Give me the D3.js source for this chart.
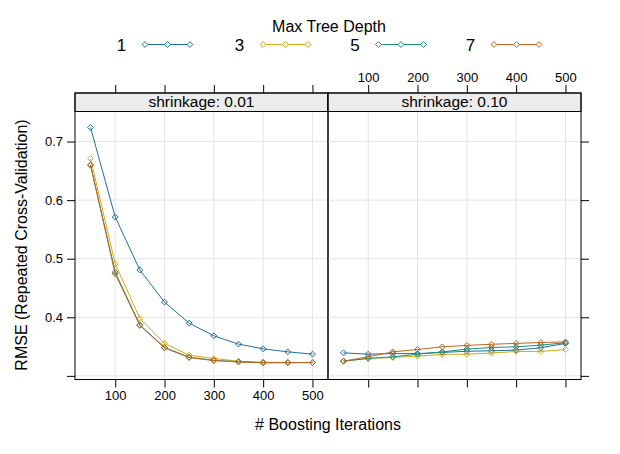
<!DOCTYPE html>
<html><head><meta charset="utf-8">
<script src="https://cdn.jsdelivr.net/npm/d3@7"></script>
<style>body{margin:0;background:#fff}svg{display:block;font-family:"Liberation Sans",Arial,sans-serif}</style>
</head><body><svg id="c" width="620" height="454"></svg>
<script>
const iterations = [50,100,150,200,250,300,350,400,450,500];
const depths = ["1","3","5","7"];
const colors = ["#1f6f9e","#d8a812","#1a8f7c","#c0661c"];
const panels = ["shrinkage: 0.01","shrinkage: 0.10"];
// shrinkage 0.01
const s001_d1 = [0.7239,0.5713,0.4807,0.4260,0.3900,0.3684,0.3542,0.3462,0.3410,0.3371];
const s001_d3 = [0.6710,0.4915,0.3980,0.3554,0.3354,0.3297,0.3250,0.3232,0.3228,0.3227];
const s001_d5 = [0.6600,0.4770,0.3870,0.3485,0.3318,0.3265,0.3240,0.3224,0.3226,0.3227];
const s001_d7 = [0.6595,0.4740,0.3860,0.3478,0.3312,0.3262,0.3238,0.3226,0.3227,0.3227];
// shrinkage 0.10
const s010_d1 = [0.3393,0.3370,0.3380,0.3380,0.3400,0.3420,0.3428,0.3440,0.3480,0.3554];
const s010_d3 = [0.3251,0.3300,0.3314,0.3337,0.3366,0.3370,0.3390,0.3417,0.3417,0.3450];
const s010_d5 = [0.3251,0.3297,0.3325,0.3370,0.3410,0.3457,0.3485,0.3496,0.3525,0.3565];
const s010_d7 = [0.3251,0.3325,0.3410,0.3450,0.3496,0.3520,0.3540,0.3554,0.3570,0.3580];
const xTicks = [100,200,300,400,500];
const yTicks = [0.3,0.4,0.5,0.6,0.7];
const yTickLabels = ["","0.4","0.5","0.6","0.7"];

const panelData = [[s001_d1,s001_d3,s001_d5,s001_d7],[s010_d1,s010_d3,s010_d5,s010_d7]];

(function(){
const svg = d3.select("#c");
const pw = 253, pTop = 111.5, pBottom = 379.5, stripTop = 93;
const panelX = [75, 328];
const x = d3.scaleLinear().domain([18.5,531.5]).range([0,pw]);
const y = d3.scaleLinear().domain([0.2938,0.7513]).range([pBottom,pTop]);
const font = "Liberation Sans, Arial, sans-serif";

// legend
svg.append("text").attr("x",329).attr("y",32).attr("text-anchor","middle")
  .attr("font-size",16).attr("fill","#000").text("Max Tree Depth");
const legX = [121.5,239.5,355,470.5];
const lx = d3.scaleLinear().domain([0,2]).range([0,45]);
depths.forEach((d,i)=>{
  svg.append("text").attr("x",legX[i]).attr("y",50.5).attr("text-anchor","middle").attr("font-size",17).text(d);
  const x0 = legX[i]+23.5;
  const lg = svg.append("g").attr("transform",`translate(${x0},44.5)`);
  lg.append("line").attr("x1",lx(0)).attr("x2",lx(2)).attr("stroke",colors[i]).attr("stroke-width",1.2);
  [0,1,2].forEach(k=>lg.append("path").attr("d",d3.symbol(d3.symbolDiamond2,22)()).attr("transform",`translate(${lx(k)},0)`)
     .attr("fill","#fff").attr("stroke",colors[i]).attr("stroke-width",1));
});

panels.forEach((p,pi)=>{
  const g = svg.append("g").attr("transform",`translate(${panelX[pi]},0)`);
  // grid
  g.selectAll(".gx").data(xTicks).join("line").attr("x1",d=>x(d)).attr("x2",d=>x(d))
    .attr("y1",pTop).attr("y2",pBottom).attr("stroke","#e4e4e4").attr("stroke-width",1);
  g.selectAll(".gy").data(yTicks).join("line").attr("y1",d=>y(d)).attr("y2",d=>y(d))
    .attr("x1",0).attr("x2",pw).attr("stroke","#e4e4e4").attr("stroke-width",1);
  // series
  const line = d3.line().x((d,i)=>x(iterations[i])).y(d=>y(d));
  panelData[pi].forEach((vals,si)=>{
    g.append("path").attr("d",line(vals)).attr("fill","none").attr("stroke",colors[si]).attr("stroke-width",1);
    g.selectAll(null).data(vals).join("path").attr("d",d3.symbol(d3.symbolDiamond2,22)())
      .attr("transform",(d,i)=>`translate(${x(iterations[i])},${y(d)})`)
      .attr("fill","none").attr("stroke",colors[si]).attr("stroke-width",1);
  });
  // strip
  g.append("rect").attr("x",0).attr("y",stripTop).attr("width",pw).attr("height",pTop-stripTop)
    .attr("fill","#ececec").attr("stroke","#000").attr("stroke-width",1);
  g.append("text").attr("x",pw/2).attr("y",pTop-4.5).attr("text-anchor","middle").attr("font-size",15.5).text(p);
  // border
  g.append("rect").attr("x",0).attr("y",stripTop).attr("width",pw).attr("height",pBottom-stripTop)
    .attr("fill","none").attr("stroke","#000").attr("stroke-width",1);
  // x axes
  const bAx = d3.axisBottom(x).tickValues(xTicks).tickSize(8).tickPadding(3);
  const tAx = d3.axisTop(x).tickValues(xTicks).tickSize(8).tickPadding(3);
  if (pi===1) bAx.tickFormat(""); else tAx.tickFormat("");
  const ba = g.append("g").attr("transform",`translate(0,${pBottom})`).call(bAx);
  const ta = g.append("g").attr("transform",`translate(0,${stripTop})`).call(tAx);
  [ba,ta].forEach(a=>{a.select(".domain").remove();
    a.selectAll("text").attr("font-size",13).attr("fill","#000").attr("font-family",font);
    a.selectAll("line").attr("stroke","#000");});
  // y axes
  if (pi===0){
    const la = g.append("g").call(d3.axisLeft(y).tickValues(yTicks).tickSize(8).tickPadding(4)
       .tickFormat((d,i)=>yTickLabels[i]));
    la.select(".domain").remove();
    la.selectAll("text").attr("font-size",13).attr("fill","#000").attr("font-family",font);
    la.selectAll("line").attr("stroke","#000");
  } else {
    const ra = g.append("g").attr("transform",`translate(${pw},0)`).call(d3.axisRight(y).tickValues(yTicks).tickSize(8).tickFormat(""));
    ra.select(".domain").remove();
    ra.selectAll("line").attr("stroke","#000");
  }
});

svg.append("text").attr("x",328).attr("y",430).attr("text-anchor","middle").attr("font-size",16).text("# Boosting Iterations");
svg.append("text").attr("transform","translate(27,245) rotate(-90)").attr("text-anchor","middle").attr("font-size",16)
  .text("RMSE (Repeated Cross-Validation)");
})();
</script></body></html>
